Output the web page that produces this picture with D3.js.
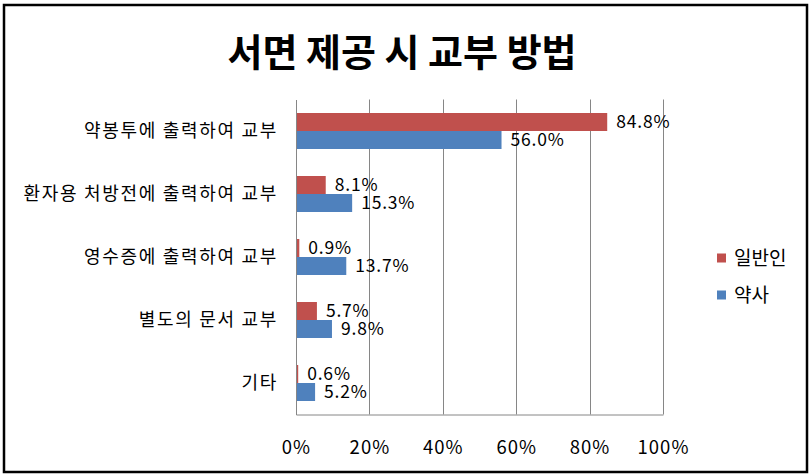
<!DOCTYPE html>
<html><head><meta charset="utf-8">
<script src="https://cdn.jsdelivr.net/npm/d3@7"></script>
<style>
html,body{margin:0;padding:0;background:#fff;}
text{font-family:"Noto Sans CJK KR","Noto Sans",sans-serif;fill:#000;}
</style></head>
<body><svg id="c" width="810" height="475"></svg>
<script>
const title = "서면 제공 시 교부 방법";
const categories = ["약봉투에 출력하여 교부","환자용 처방전에 출력하여 교부","영수증에 출력하여 교부","별도의 문서 교부","기타"];
const seriesNames = ["일반인","약사"];
const seriesColors = ["#C0504D","#4F81BD"];
const generalValues = [84.8, 8.1, 0.9, 5.7, 0.6];
const pharmacistValues = [56.0, 15.3, 13.7, 9.8, 5.2];
const xTicks = [0,20,40,60,80,100];

const seriesValues = [generalValues, pharmacistValues];
const svg = d3.select("#c");
svg.append("rect").attr("x",0).attr("y",0).attr("width",810).attr("height",475).attr("fill","#fff");
svg.append("rect").attr("x",4).attr("y",5).attr("width",803).attr("height",467)
  .attr("fill","none").attr("stroke","#000").attr("stroke-width",2.5);

svg.append("text").attr("x",402).attr("y",66).attr("text-anchor","middle")
  .attr("font-size",38).attr("font-weight","bold").text(title);

const L=296,R=663,T=99.5,B=414.5;
const x = d3.scaleLinear().domain([0,100]).range([L,R]);
const y = d3.scaleBand().domain(categories).range([T,B]).paddingInner(0.4286).paddingOuter(0.2143);
const ys = d3.scaleBand().domain(seriesNames).range([0,y.bandwidth()]);

// gridlines
svg.append("g").selectAll("line").data(xTicks.filter(d=>d>0)).join("line")
  .attr("x1",d=>Math.round(x(d))+0.5).attr("x2",d=>Math.round(x(d))+0.5)
  .attr("y1",T).attr("y2",B).attr("stroke","#868686").attr("stroke-width",1);

// bars
seriesNames.forEach((s,si)=>{
  const g = svg.append("g");
  g.selectAll("rect").data(categories).join("rect")
    .attr("x",x(0)).attr("y",c=>y(c)+ys(s))
    .attr("width",(c,i)=>x(seriesValues[si][i])-x(0))
    .attr("height",ys.bandwidth()).attr("fill",seriesColors[si]);
  g.selectAll("text").data(categories).join("text")
    .attr("x",(c,i)=>x(seriesValues[si][i])+9)
    .attr("y",c=>y(c)+ys(s)+ys.bandwidth()/2)
    .attr("dy","0.36em").attr("font-size",17.5).attr("letter-spacing",0.8)
    .text((c,i)=>seriesValues[si][i].toFixed(1)+"%");
});

// axes
const xAxis = d3.axisBottom(x).tickValues(xTicks).tickFormat(d=>d+"%").tickSize(0).tickPadding(26);
const gx = svg.append("g").attr("transform",`translate(0,${B})`).call(xAxis);
gx.select(".domain").attr("stroke","#868686");
gx.selectAll("text").attr("font-size",18.5).attr("letter-spacing",1).attr("font-family",null);

const yAxis = d3.axisLeft(y).tickSize(0).tickPadding(18);
const gy = svg.append("g").attr("transform",`translate(${L},0)`).call(yAxis);
gy.select(".domain").attr("stroke","#868686");
gy.selectAll("text").attr("font-size",18).attr("letter-spacing",1.7).attr("font-family",null);

// legend
const lg = svg.append("g");
seriesNames.forEach((s,i)=>{
  const cy = 258 + i*37;
  lg.append("rect").attr("x",717).attr("y",cy-4.5).attr("width",9).attr("height",9).attr("fill",seriesColors[i]);
  lg.append("text").attr("x",734).attr("y",cy).attr("dy","0.36em").attr("font-size",19).text(s);
});
</script></body></html>
